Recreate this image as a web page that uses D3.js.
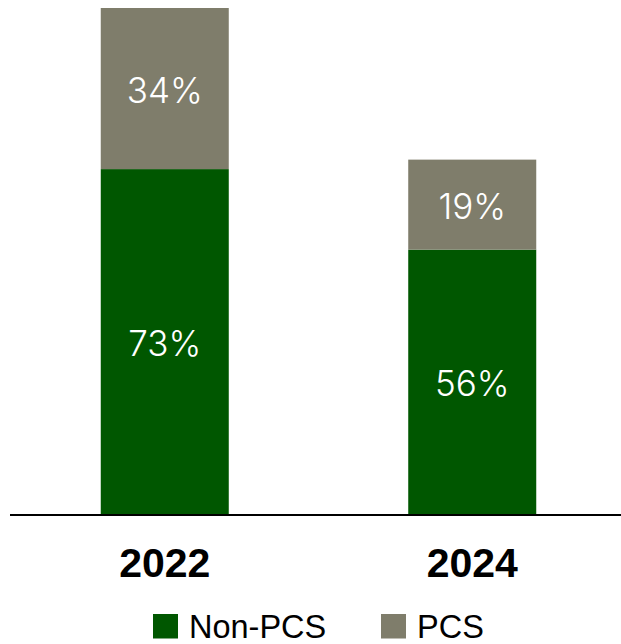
<!DOCTYPE html>
<html>
<head>
<meta charset="utf-8">
<script src="https://cdn.jsdelivr.net/npm/d3@7"></script>
<style>
  html, body { margin: 0; padding: 0; background: #ffffff; }
  svg { display: block; }
</style>
</head>
<body>
<svg id="chart" width="621" height="644"></svg>
<script>
// Share of respondents by year, split into Non-PCS and PCS
const years = ["2022", "2024"];
const nonPcs = [73, 56];
const pcs = [34, 19];
const seriesNames = ["Non-PCS", "PCS"];
const seriesColors = ["#005700", "#7f7d6b"];

const svg = d3.select("#chart");

const x = d3.scaleBand()
  .domain(years)
  .range([13, 624])
  .paddingInner(0.5837)
  .paddingOuter(0.2854);

const y = d3.scaleLinear()
  .domain([0, 107])
  .range([515, 8]);

const rows = years.map((yr, i) => ({ year: yr, "Non-PCS": nonPcs[i], "PCS": pcs[i] }));
const stacked = d3.stack().keys(seriesNames)(rows);

const layers = svg.selectAll("g.layer")
  .data(stacked)
  .join("g")
  .attr("class", "layer")
  .attr("fill", (d, i) => seriesColors[i]);

layers.selectAll("rect")
  .data(d => d)
  .join("rect")
  .attr("x", d => x(d.data.year))
  .attr("width", x.bandwidth())
  .attr("y", d => y(d[1]))
  .attr("height", d => y(d[0]) - y(d[1]));

// value labels centred in each segment
layers.each(function(layer) {
  d3.select(this).selectAll("text")
    .data(layer)
    .join("text")
    .attr("x", d => x(d.data.year) + x.bandwidth() / 2)
    .attr("y", d => (y(d[0]) + y(d[1])) / 2 + 14)
    .attr("text-anchor", "middle")
    .attr("fill", "#ffffff")
    .attr("font-family", "Inter, 'Noto Sans', sans-serif")
    .attr("font-weight", 350)
    .attr("font-size", 35)
    .text(d => (d[1] - d[0]) + "%");
});

// baseline axis with year labels
const axis = svg.append("g")
  .attr("transform", `translate(0, ${y(0)})`)
  .call(d3.axisBottom(x).tickSize(0).tickPadding(0));

axis.select(".domain")
  .attr("d", "M10,0H621")
  .attr("stroke", "#000")
  .attr("stroke-width", 2);

axis.selectAll(".tick text")
  .attr("dy", null)
  .attr("y", 62)
  .attr("fill", "#000")
  .attr("font-family", "'Liberation Sans', Arial, sans-serif")
  .attr("font-weight", 700)
  .attr("font-size", 41);

// legend
const legendItems = [
  { name: seriesNames[0], color: seriesColors[0], x: 153 },
  { name: seriesNames[1], color: seriesColors[1], x: 381 }
];
const legend = svg.append("g").attr("transform", "translate(0, 614)");
const li = legend.selectAll("g")
  .data(legendItems)
  .join("g")
  .attr("transform", d => `translate(${d.x}, 0)`);
li.append("rect")
  .attr("width", 25)
  .attr("height", 24.5)
  .attr("fill", d => d.color);
li.append("text")
  .attr("x", 36)
  .attr("y", 24)
  .attr("font-family", "'Liberation Sans', Arial, sans-serif")
  .attr("font-size", 32.5)
  .attr("fill", "#000")
  .text(d => d.name);
</script>
</body>
</html>
